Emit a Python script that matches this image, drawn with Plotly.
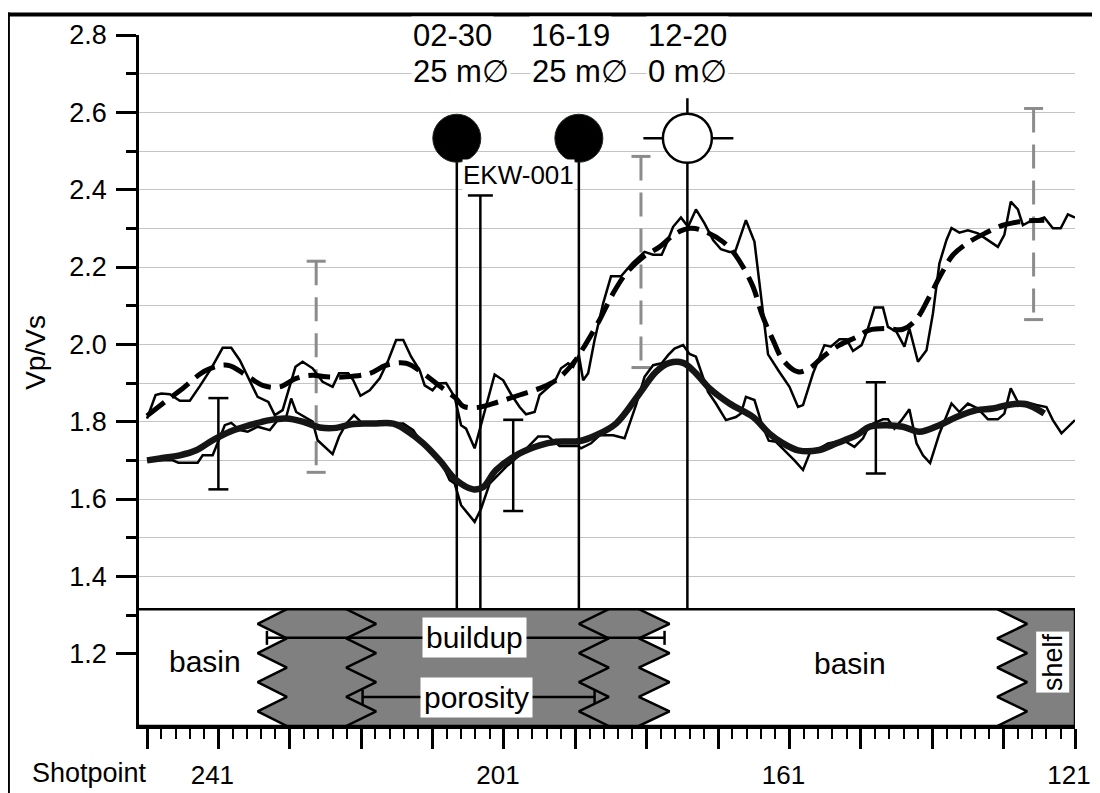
import plotly.graph_objects as go

FONT = "Liberation Sans, Arial, Helvetica, sans-serif"

# ---------------- data ----------------
upper_raw_sp = [251.0, 249.8, 249.0, 247.8, 246.4, 245.0, 243.6, 242.0, 240.4, 239.2,
                238.0, 236.6, 235.5, 234.0, 233.1, 232.0, 231.3, 230.2, 229.2, 227.8,
                226.4, 225.0, 224.1, 222.8, 222.1, 221.1, 219.8, 218.4, 217.2, 216.1,
                215.1, 214.0, 212.8, 212.1, 211.0, 210.2, 209.1, 207.9, 207.0, 206.3,
                205.1, 203.9, 202.3, 201.1, 200.0, 198.8, 197.9, 196.7, 196.0, 193.9,
                193.0, 192.0, 191.3, 190.5, 189.9, 189.2, 188.3, 187.1, 186.0, 184.6,
                183.0, 181.3, 180.1, 178.9, 178.3, 177.3, 176.2, 175.2, 174.1, 172.9,
                171.7, 170.6, 169.4, 168.6, 167.1, 165.9, 165.1, 164.0, 162.5, 161.0,
                159.8, 159.1, 157.7, 156.1, 155.2, 154.0, 153.0, 152.1, 150.9, 150.0,
                149.1, 147.9, 147.2, 146.0, 144.9, 144.2, 143.0, 141.8, 140.9, 140.0,
                139.0, 138.3, 137.2, 136.0, 134.6, 133.2, 131.8, 130.9, 130.0, 129.0,
                128.3, 127.4, 126.4, 125.3, 124.1, 123.0, 122.0, 121.0]
upper_raw_vpvs = [1.808, 1.869, 1.873, 1.871, 1.854, 1.854, 1.892, 1.938, 1.991, 1.991,
                  1.959, 1.907, 1.864, 1.851, 1.817, 1.830, 1.873, 1.942, 1.955, 1.938,
                  1.903, 1.890, 1.925, 1.925, 1.907, 1.867, 1.881, 1.912, 1.959, 2.011,
                  2.011, 1.968, 1.933, 1.894, 1.881, 1.899, 1.900, 1.864, 1.791, 1.782,
                  1.731, 1.812, 1.922, 1.907, 1.871, 1.838, 1.819, 1.825, 1.869, 1.903,
                  1.938, 1.951, 1.942, 1.972, 1.907, 1.925, 2.011, 2.106, 2.176, 2.176,
                  2.210, 2.239, 2.232, 2.232, 2.257, 2.304, 2.328, 2.304, 2.349, 2.313,
                  2.270, 2.246, 2.239, 2.240, 2.321, 2.265, 2.140, 1.974, 1.931, 1.890,
                  1.838, 1.843, 1.925, 1.998, 1.994, 2.013, 2.013, 1.983, 1.998, 2.041,
                  2.095, 2.095, 2.045, 2.032, 1.994, 2.041, 1.955, 1.985, 2.080, 2.209,
                  2.270, 2.301, 2.289, 2.295, 2.287, 2.270, 2.252, 2.283, 2.369, 2.349,
                  2.308, 2.317, 2.321, 2.328, 2.300, 2.300, 2.336, 2.328]

upper_smooth_sp = [251.0, 248.5, 246.0, 242.7, 239.7, 237.1, 234.8, 232.4, 230.1, 227.8,
                   225.9, 223.1, 219.8, 217.5, 214.7, 212.3, 210.0, 207.7, 206.7, 204.6,
                   201.8, 198.8, 196.0, 193.7, 191.3, 189.5, 187.6, 185.7, 183.9, 181.5,
                   179.2, 176.9, 174.8, 172.7, 170.3, 168.9, 167.5, 166.1, 164.8, 163.3,
                   161.9, 159.8, 158.2, 156.3, 154.0, 151.6, 149.8, 147.4, 145.1, 143.3,
                   141.4, 139.7, 138.1, 135.8, 133.4, 131.1, 128.8, 126.9, 125.3]
upper_smooth_vpvs = [1.815, 1.851, 1.886, 1.933, 1.946, 1.920, 1.894, 1.890, 1.912, 1.920,
                     1.916, 1.916, 1.925, 1.946, 1.951, 1.925, 1.892, 1.860, 1.840, 1.837,
                     1.851, 1.869, 1.886, 1.907, 1.951, 2.002, 2.063, 2.132, 2.183, 2.226,
                     2.252, 2.287, 2.300, 2.291, 2.265, 2.239, 2.200, 2.149, 2.075, 2.011,
                     1.959, 1.929, 1.938, 1.968, 1.998, 2.019, 2.037, 2.041, 2.039, 2.063,
                     2.123, 2.183, 2.231, 2.265, 2.289, 2.308, 2.317, 2.320, 2.321]

lower_raw_sp = [251.0, 247.4, 246.6, 243.9, 243.2, 241.8, 240.1, 239.2, 238.0, 236.9,
                235.5, 233.8, 232.7, 231.5, 230.8, 230.1, 227.8, 227.1, 225.0, 224.1,
                223.1, 222.0, 220.8, 215.1, 213.7, 212.8, 211.4, 210.0, 208.6, 207.9,
                207.0, 205.1, 204.2, 203.0, 200.7, 198.3, 196.2, 194.8, 193.2, 190.6,
                190.2, 188.8, 187.6, 185.7, 184.1, 182.5, 181.3, 180.1, 178.9, 178.0,
                177.1, 175.9, 175.0, 174.1, 172.4, 171.3, 169.9, 168.5, 167.8, 167.1,
                165.9, 164.8, 163.9, 162.9, 161.7, 160.3, 159.1, 158.0, 156.8, 155.6,
                154.4, 153.1, 151.9, 150.7, 149.8, 147.9, 147.2, 146.3, 145.3, 144.2,
                143.2, 142.3, 141.3, 140.0, 138.3, 137.2, 136.0, 134.6, 133.2, 131.8,
                130.9, 130.0, 129.0, 127.9, 126.4, 125.0, 124.1, 122.9, 121.0]
lower_raw_vpvs = [1.700, 1.700, 1.694, 1.694, 1.713, 1.713, 1.791, 1.797, 1.778, 1.774,
                  1.787, 1.778, 1.804, 1.812, 1.860, 1.825, 1.800, 1.752, 1.716, 1.761,
                  1.795, 1.817, 1.795, 1.795, 1.778, 1.752, 1.722, 1.705, 1.649, 1.640,
                  1.584, 1.541, 1.575, 1.640, 1.683, 1.722, 1.762, 1.762, 1.737, 1.737,
                  1.731, 1.744, 1.765, 1.765, 1.757, 1.843, 1.916, 1.946, 1.951, 1.972,
                  1.989, 1.998, 1.975, 1.968, 1.877, 1.847, 1.804, 1.812, 1.821, 1.864,
                  1.856, 1.790, 1.751, 1.748, 1.726, 1.700, 1.675, 1.726, 1.731, 1.744,
                  1.748, 1.748, 1.735, 1.757, 1.791, 1.806, 1.806, 1.782, 1.804, 1.832,
                  1.744, 1.713, 1.693, 1.769, 1.847, 1.825, 1.847, 1.834, 1.806, 1.806,
                  1.821, 1.886, 1.851, 1.851, 1.843, 1.838, 1.804, 1.770, 1.804]

lower_smooth_sp = [251.0, 249.2, 246.4, 244.1, 241.8, 239.4, 236.6, 233.8, 231.5, 229.2,
                   226.8, 224.5, 222.1, 219.3, 216.5, 214.7, 212.3, 210.0, 207.7, 205.3,
                   203.9, 202.1, 198.8, 196.0, 193.7, 190.4, 188.1, 185.3, 182.0, 179.7,
                   177.8, 175.9, 174.1, 172.2, 169.4, 166.1, 163.8, 161.9, 159.8, 157.0,
                   154.4, 151.6, 149.8, 147.4, 145.1, 142.8, 140.0, 137.6, 134.8, 132.5,
                   130.2, 127.9, 125.3]
lower_smooth_vpvs = [1.700, 1.705, 1.713, 1.726, 1.752, 1.774, 1.791, 1.804, 1.808, 1.800,
                     1.785, 1.784, 1.794, 1.795, 1.795, 1.778, 1.744, 1.700, 1.649, 1.625,
                     1.631, 1.675, 1.718, 1.739, 1.748, 1.750, 1.765, 1.795, 1.873, 1.929,
                     1.952, 1.952, 1.925, 1.886, 1.847, 1.812, 1.769, 1.744, 1.726, 1.726,
                     1.744, 1.765, 1.787, 1.791, 1.787, 1.774, 1.791, 1.812, 1.830, 1.834,
                     1.844, 1.845, 1.821]

err_black_sp = [241.0, 199.7, 148.9]
err_black_center = [1.743, 1.687, 1.784]
err_black_half = [0.118, 0.118, 0.118]
err_gray_sp = [227.3, 181.8, 126.8]
err_gray_center = [1.942, 2.213, 2.337]
err_gray_half = [0.273, 0.273, 0.273]

well_names = ["02-30", "16-19", "12-20"]
well_thickness = ["25 m\u2205", "25 m\u2205", "0 m\u2205"]
well_sp = [207.6, 190.5, 175.3]
well_filled = [True, True, False]
well_symbol_vpvs = 2.533

ekw_name = "EKW-001"
ekw_sp = 204.3
ekw_top_vpvs = 2.385

facies_top = 1.315
facies_bottom = 1.013
zig_left_sp = [235.5, 223.1, 190.5, 182.1, 131.9]
zig_right_sp = [231.4, 218.9, 186.3, 177.8, 127.7]
zig_teeth = ["left", "right", "left", "right", "right"]

facies_names = ["basin", "basin", "shelf"]
facies_label_sp = [242.9, 152.5, 124.1]
facies_label_vpvs = [1.180, 1.175, 1.178]

interval_names = ["buildup", "porosity"]
interval_from_sp = [234.2, 220.8]
interval_to_sp = [178.5, 188.3]
interval_vpvs = [1.241, 1.088]
interval_label_sp = [205.1, 204.8]

x_major_ticks = [251, 241, 231, 221, 211, 201, 191, 181, 171, 161, 151, 141, 131, 121]
x_labeled_ticks = [241, 201, 161, 121]
y_major_ticks = [1.2, 1.4, 1.6, 1.8, 2.0, 2.2, 2.4, 2.6, 2.8]
y_minor_ticks = [1.3, 1.5, 1.7, 1.9, 2.1, 2.3, 2.5, 2.7]

# ---------------- layout geometry ----------------
# the page body adds an 8 px offset; the figure is sized so the picture lands in place
OFF = 8
W, H = 1100 - OFF, 793 - OFF
PLOT_L, PLOT_R, PLOT_T, PLOT_B = 139.3, 1075.0, 35.0, 725.7   # picture pixels
ML, MR = PLOT_L - OFF, (W + OFF) - PLOT_R
MT, MB = PLOT_T - OFF, (H + OFF) - PLOT_B
X_RANGE = [252.12, 121.0]
Y_RANGE = [1.013, 2.8]
PW = PLOT_R - PLOT_L
PH = PLOT_B - PLOT_T
px_per_sp = PW / (X_RANGE[0] - X_RANGE[1])
px_per_v = PH / (Y_RANGE[1] - Y_RANGE[0])


def dsp(px):
    return px / px_per_sp


def dv(px):
    return px / px_per_v


def paper_x(px):
    return (px - PLOT_L) / PW


def paper_y(py):
    return (PLOT_B - py) / PH


fig = go.Figure()


def add_line(xs, ys, color="black", width=2.5, dash="solid", shape="linear"):
    fig.add_trace(go.Scatter(x=xs, y=ys, mode="lines", hoverinfo="skip",
                             line=dict(color=color, width=width, dash=dash, shape=shape),
                             showlegend=False))


# facies panel: white box
fig.add_trace(go.Scatter(
    x=[X_RANGE[0], X_RANGE[1], X_RANGE[1], X_RANGE[0], X_RANGE[0]],
    y=[facies_bottom, facies_bottom, facies_top, facies_top, facies_bottom],
    mode="lines", fill="toself", fillcolor="white", line=dict(width=0),
    hoverinfo="skip", showlegend=False))

NSEG = 8
zig_y = [facies_top - i * (facies_top - facies_bottom) / NSEG for i in range(NSEG + 1)]


def zig_x(k):
    xs = []
    for i in range(NSEG + 1):
        if zig_teeth[k] == "left":
            xs.append(zig_right_sp[k] if i % 2 == 0 else zig_left_sp[k])
        else:
            xs.append(zig_left_sp[k] if i % 2 == 0 else zig_right_sp[k])
    return xs


GRAY = "#808080"
gx = zig_x(0) + zig_x(3)[::-1]
gy = zig_y + zig_y[::-1]
fig.add_trace(go.Scatter(x=gx + [gx[0]], y=gy + [gy[0]], mode="lines", fill="toself",
                         fillcolor=GRAY, line=dict(width=0), hoverinfo="skip", showlegend=False))
sx = zig_x(4) + [X_RANGE[1], X_RANGE[1]]
sy = zig_y + [facies_bottom, facies_top]
fig.add_trace(go.Scatter(x=sx + [sx[0]], y=sy + [sy[0]], mode="lines", fill="toself",
                         fillcolor=GRAY, line=dict(width=0), hoverinfo="skip", showlegend=False))
for k in range(len(zig_left_sp)):
    add_line(zig_x(k), zig_y, width=2.5)

add_line([X_RANGE[0], X_RANGE[1], X_RANGE[1], X_RANGE[0]],
         [facies_top, facies_top, facies_bottom, facies_bottom], width=2.5)

# interval bars
for k in range(len(interval_names)):
    y0 = interval_vpvs[k]
    add_line([interval_from_sp[k], interval_to_sp[k]], [y0, y0], width=2.5)
    for xe in (interval_from_sp[k], interval_to_sp[k]):
        add_line([xe, xe], [y0 - dv(7), y0 + dv(7)], width=2.5)

# well lines
for k in range(len(well_sp)):
    add_line([well_sp[k], well_sp[k]], [well_symbol_vpvs, facies_top], width=2.5)
add_line([ekw_sp, ekw_sp], [facies_top, ekw_top_vpvs], width=2.5)
add_line([ekw_sp - dsp(12.5), ekw_sp + dsp(12.5)], [ekw_top_vpvs, ekw_top_vpvs], width=2.5)

# error bars
for k in range(len(err_black_sp)):
    x0, c, h = err_black_sp[k], err_black_center[k], err_black_half[k]
    add_line([x0, x0], [c - h, c + h], width=2.5)
    add_line([x0 - dsp(10), x0 + dsp(10), None, x0 - dsp(10), x0 + dsp(10)],
             [c - h, c - h, None, c + h, c + h], width=2.5)
for k in range(len(err_gray_sp)):
    x0, c, h = err_gray_sp[k], err_gray_center[k], err_gray_half[k]
    add_line([x0, x0], [c + h, c - h], color="#8c8c8c", width=3, dash="24px,12px")
    add_line([x0 - dsp(9.5), x0 + dsp(9.5), None, x0 - dsp(9.5), x0 + dsp(9.5)],
             [c - h, c - h, None, c + h, c + h], color="#8c8c8c", width=3)

# curves
add_line(upper_raw_sp, upper_raw_vpvs, width=2.5)
add_line(upper_smooth_sp, upper_smooth_vpvs, width=5, dash="22px,9px", shape="spline")
add_line(lower_raw_sp, lower_raw_vpvs, width=2.5)
add_line(lower_smooth_sp, lower_smooth_vpvs, color="#151515", width=6.5, shape="spline")

# well symbols
for k in range(len(well_sp)):
    if not well_filled[k]:
        x0 = well_sp[k]
        add_line([x0 - dsp(46), x0 + dsp(44)], [well_symbol_vpvs, well_symbol_vpvs], width=2.5)
        add_line([x0, x0], [well_symbol_vpvs, well_symbol_vpvs + dv(40)], width=2.5)
fig.add_trace(go.Scatter(
    x=[s for s, f in zip(well_sp, well_filled) if f],
    y=[well_symbol_vpvs for f in well_filled if f],
    mode="markers", hoverinfo="skip", showlegend=False,
    marker=dict(size=48, color="black", line=dict(color="#1b2b1b", width=1))))
fig.add_trace(go.Scatter(
    x=[s for s, f in zip(well_sp, well_filled) if not f],
    y=[well_symbol_vpvs for f in well_filled if not f],
    mode="markers", hoverinfo="skip", showlegend=False,
    marker=dict(size=49, color="white", line=dict(color="black", width=2.5))))

# ---------------- annotations ----------------
ann = []
name_shift = [-4, -8, 0]
thick_shift = [4, 1, 0]
for k in range(len(well_sp)):
    ann.append(dict(x=well_sp[k], y=2.8, xref="x", yref="y", text=well_names[k],
                    xanchor="center", yanchor="middle",
                    showarrow=False, xshift=name_shift[k], bgcolor="white", borderpad=1,
                    font=dict(size=31, color="black", family=FONT)))
    ann.append(dict(x=well_sp[k], y=2.705, xref="x", yref="y", text=well_thickness[k],
                    xanchor="center", yanchor="middle",
                    showarrow=False, xshift=thick_shift[k], bgcolor="white", borderpad=1,
                    font=dict(size=31, color="black", family=FONT)))
ann.append(dict(x=ekw_sp, y=ekw_top_vpvs, xref="x", yref="y", text=ekw_name,
                showarrow=False, xanchor="left", yanchor="bottom", xshift=-18, yshift=4,
                bgcolor="white", borderpad=0, font=dict(size=26, color="black", family=FONT)))
for k in range(len(interval_names)):
    ann.append(dict(x=interval_label_sp[k], y=interval_vpvs[k], xref="x", yref="y",
                    text=interval_names[k], showarrow=False, bgcolor="white", borderpad=3,
                    xanchor="center", yanchor="middle",
                    font=dict(size=30, color="black", family=FONT)))
for k in range(len(facies_names)):
    is_shelf = facies_names[k] == "shelf"
    ann.append(dict(x=facies_label_sp[k], y=facies_label_vpvs[k], xref="x", yref="y",
                    text=facies_names[k], showarrow=False,
                    xanchor="center", yanchor="middle",
                    textangle=-90 if is_shelf else 0,
                    bgcolor="white" if is_shelf else "rgba(0,0,0,0)", borderpad=1,
                    font=dict(size=27 if is_shelf else 30, color="black", family=FONT)))
ann.append(dict(x=paper_x(30), y=paper_y(773), xref="paper", yref="paper", text="Shotpoint",
                xanchor="left", yanchor="middle", showarrow=False,
                font=dict(size=27, color="black", family=FONT)))
ann.append(dict(x=paper_x(35), y=paper_y(352), xref="paper", yref="paper", text="Vp/Vs",
                xanchor="center", yanchor="middle",
                textangle=-90, showarrow=False,
                font=dict(size=28, color="black", family=FONT)))

# outer frame
shapes = [
    dict(type="line", xref="paper", yref="paper", x0=paper_x(6), x1=paper_x(1105),
         y0=paper_y(14.5), y1=paper_y(14.5), line=dict(color="black", width=4)),
    dict(type="line", xref="paper", yref="paper", x0=paper_x(8.5), x1=paper_x(8.5),
         y0=paper_y(12.5), y1=paper_y(800), line=dict(color="black", width=3.5)),
]

fig.update_layout(
    width=W, height=H,
    margin=dict(l=ML, r=MR, t=MT, b=MB, pad=0, autoexpand=False),
    paper_bgcolor="white", plot_bgcolor="white",
    showlegend=False,
    annotations=ann, shapes=shapes,
    font=dict(family=FONT, color="black"),
    xaxis=dict(
        range=X_RANGE, showgrid=False, zeroline=False,
        showline=True, linecolor="black", linewidth=2.5,
        ticks="outside", ticklen=20, tickwidth=2.5, tickcolor="black",
        tickmode="array", tickvals=x_major_ticks,
        ticktext=[str(v) if v in x_labeled_ticks else "" for v in x_major_ticks],
        tickfont=dict(size=26, family=FONT, color="black"),
        ticklabelstandoff=4, ticklabelshift=6, ticklabeloverflow="allow",
        minor=dict(tickmode="linear", tick0=1, dtick=2, ticks="outside",
                   ticklen=10, tickwidth=2, tickcolor="black", showgrid=False),
    ),
    yaxis=dict(
        range=Y_RANGE, zeroline=False,
        showline=True, linecolor="black", linewidth=2.5,
        ticks="outside", ticklen=20, tickwidth=2.5, tickcolor="black",
        tickmode="array", tickvals=y_major_ticks,
        ticktext=["%.1f" % v for v in y_major_ticks],
        tickfont=dict(size=27, family=FONT, color="black"),
        ticklabelstandoff=4,
        showgrid=True, gridcolor="#c4c4c4", gridwidth=1,
        minor=dict(tickmode="array", tickvals=y_minor_ticks, ticks="outside",
                   ticklen=10, tickwidth=2.5, tickcolor="black",
                   showgrid=True, gridcolor="#c4c4c4", gridwidth=1),
    ),
)

fig.write_html("out.html")
